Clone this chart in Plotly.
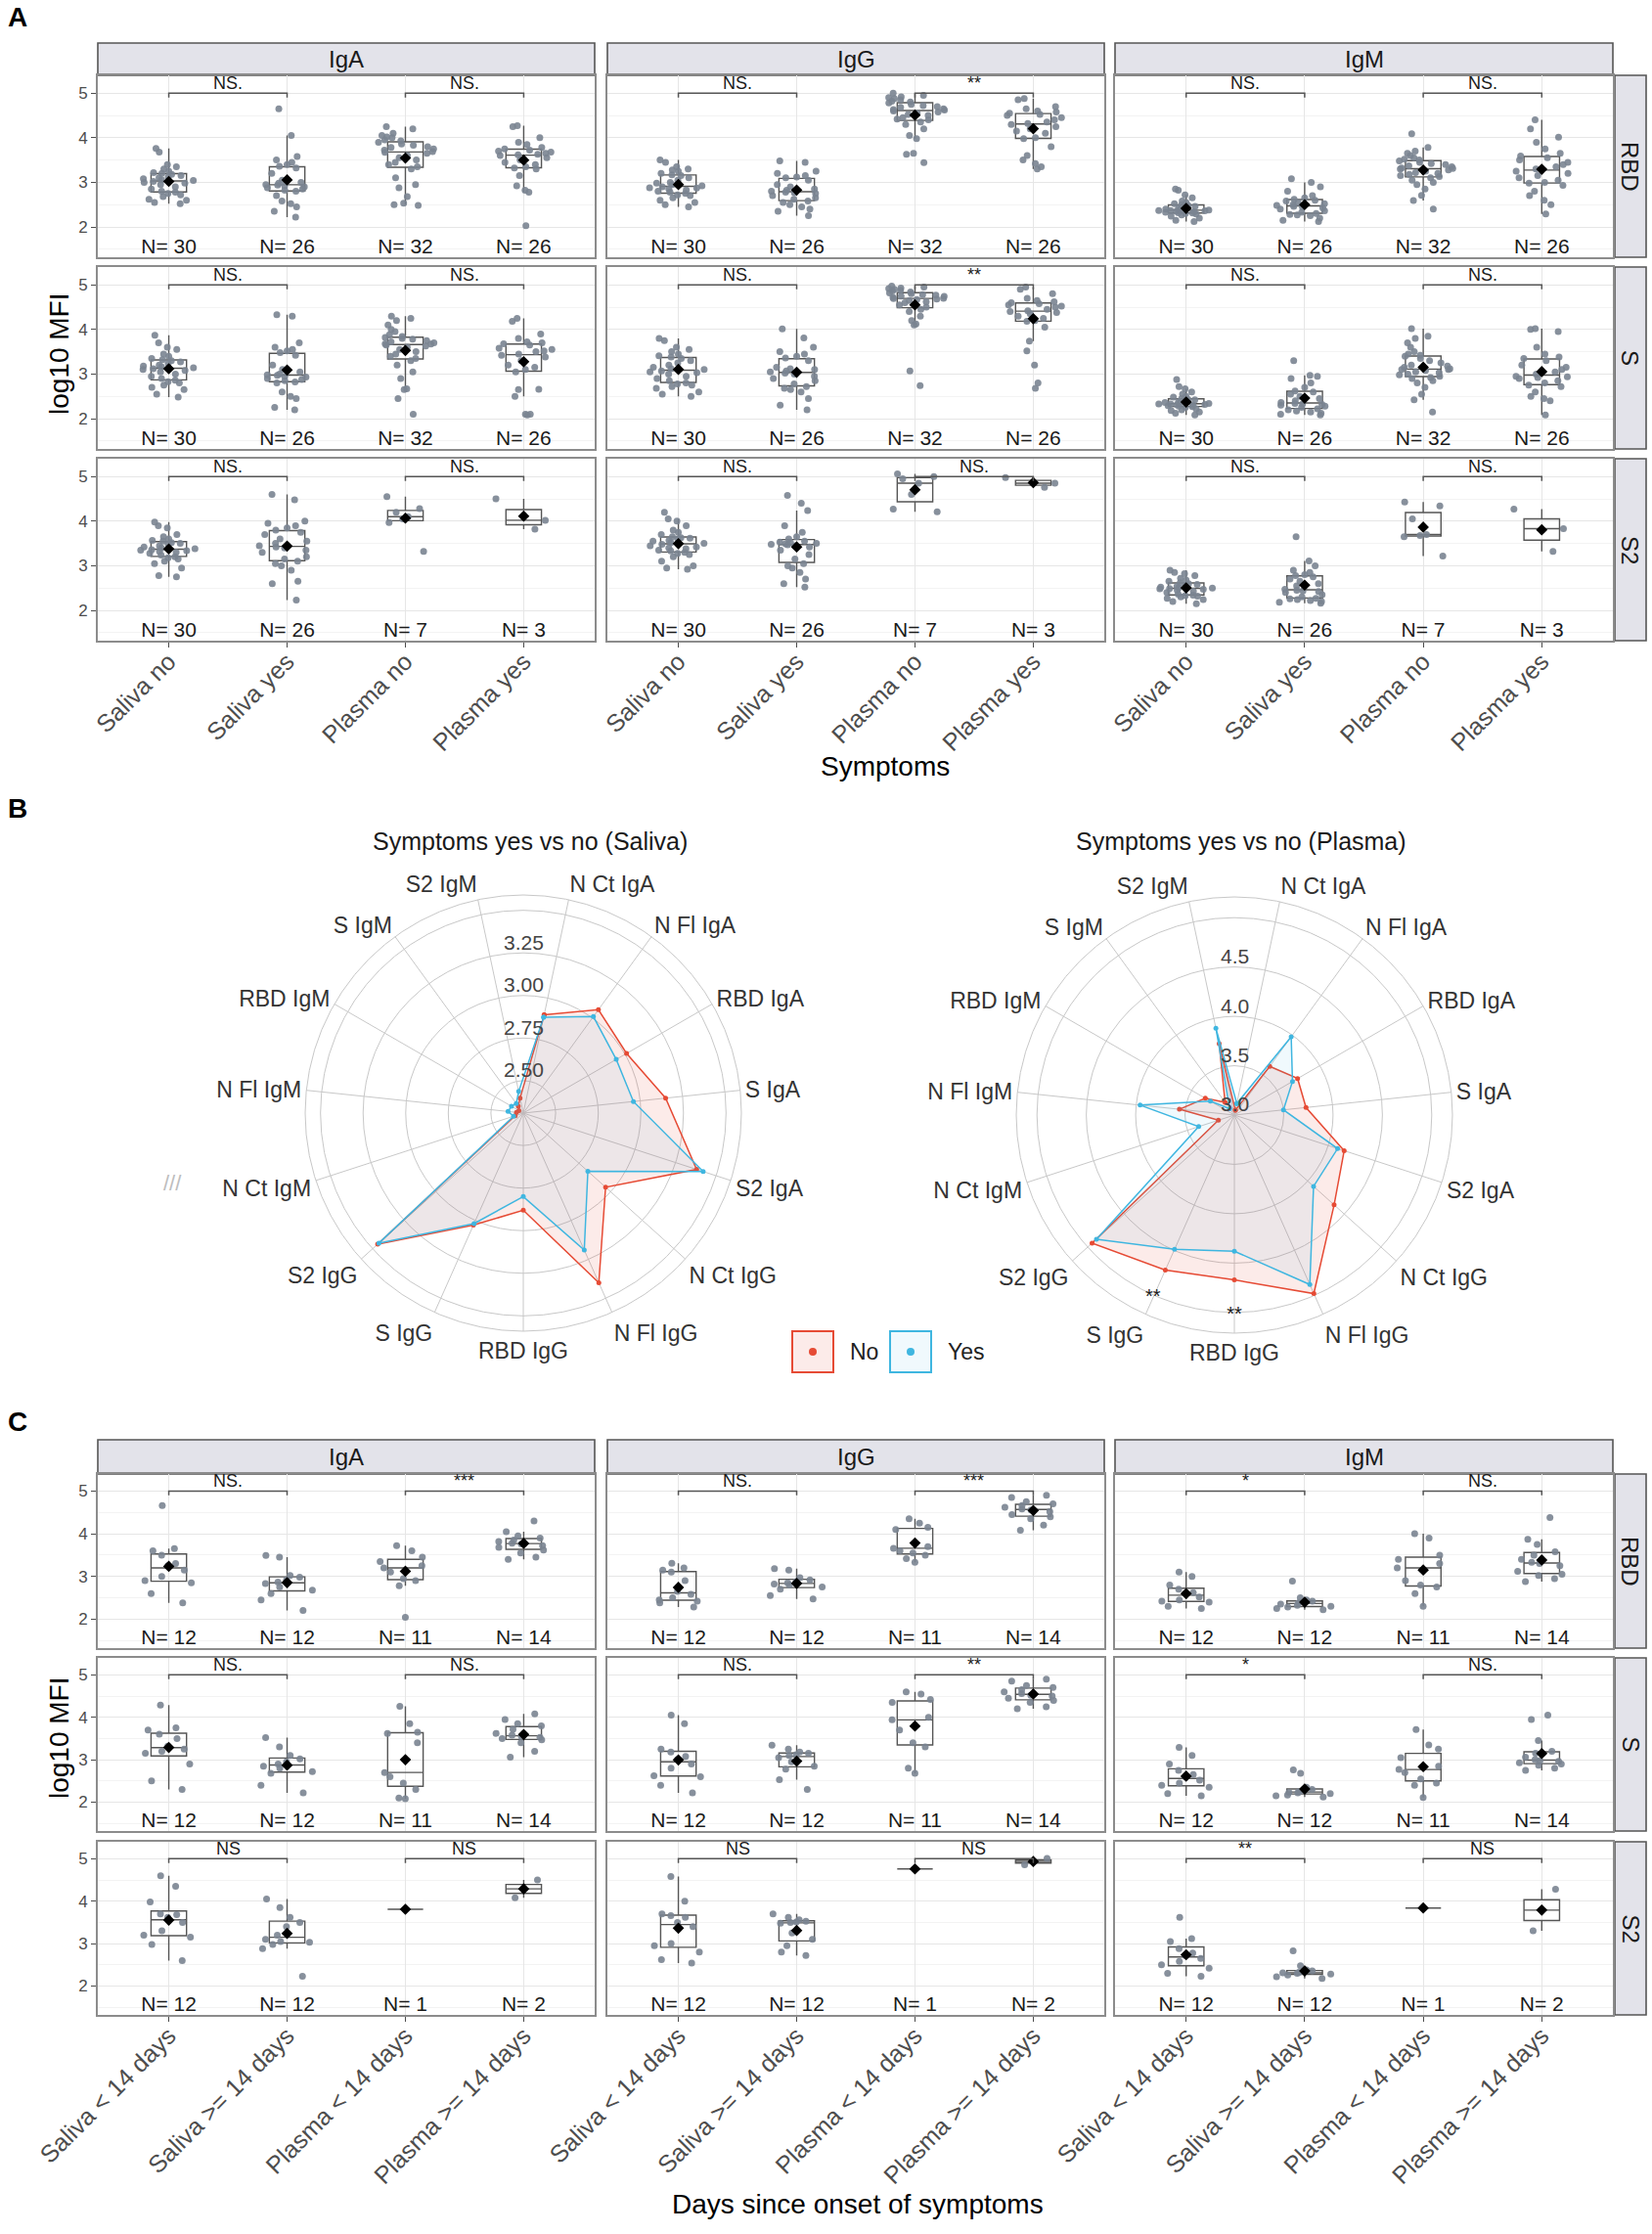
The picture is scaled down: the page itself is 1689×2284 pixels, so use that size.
import numpy as np
import plotly.graph_objects as go

# =========================================================================
# Data
# =========================================================================
ISOTYPES = ["IgA", "IgG", "IgM"]
ANTIGENS = ["RBD", "S", "S2"]
SYMPTOM_GROUPS = ["Saliva no", "Saliva yes", "Plasma no", "Plasma yes"]
ONSET_GROUPS = ["Saliva < 14 days", "Saliva >= 14 days", "Plasma < 14 days", "Plasma >= 14 days"]

# Panel A: log10 MFI by symptoms (saliva no, saliva yes, plasma no, plasma yes)
A_RBD_IGA = [
    [2.52, 2.55, 2.6, 2.62, 2.68, 2.72, 2.75, 2.78, 2.8, 2.85, 2.9, 2.95, 2.98, 3.0, 3.02, 3.04, 3.06, 3.08, 3.1, 3.12, 3.15, 3.18, 3.2, 3.22, 3.25, 3.3, 3.35, 3.4, 3.68, 3.76],
    [2.22, 2.35, 2.45, 2.52, 2.58, 2.7, 2.8, 2.82, 2.85, 2.88, 2.9, 2.92, 2.94, 2.95, 2.98, 3.0, 3.05, 3.2, 3.32, 3.36, 3.4, 3.45, 3.5, 3.58, 4.05, 4.65],
    [2.48, 2.5, 2.53, 2.68, 2.88, 2.95, 3.1, 3.3, 3.35, 3.4, 3.45, 3.5, 3.55, 3.6, 3.65, 3.67, 3.69, 3.72, 3.75, 3.78, 3.8, 3.83, 3.86, 3.9, 3.93, 3.95, 4.0, 4.02, 4.05, 4.1, 4.2, 4.25],
    [2.03, 2.78, 2.82, 2.92, 3.15, 3.3, 3.32, 3.35, 3.4, 3.45, 3.5, 3.55, 3.6, 3.62, 3.63, 3.65, 3.68, 3.7, 3.72, 3.75, 3.78, 3.85, 3.9, 4.0, 4.25, 4.27],
]
A_RBD_IGG = [
    [2.45, 2.5, 2.55, 2.6, 2.65, 2.7, 2.72, 2.75, 2.78, 2.8, 2.83, 2.85, 2.87, 2.88, 2.9, 2.92, 2.95, 2.98, 3.0, 3.05, 3.1, 3.15, 3.17, 3.2, 3.25, 3.28, 3.3, 3.35, 3.45, 3.5],
    [2.25, 2.35, 2.4, 2.45, 2.5, 2.55, 2.58, 2.62, 2.65, 2.7, 2.75, 2.77, 2.78, 2.8, 2.82, 2.85, 2.9, 2.95, 3.05, 3.1, 3.12, 3.15, 3.2, 3.25, 3.45, 3.48],
    [3.44, 3.63, 3.65, 3.98, 4.05, 4.2, 4.3, 4.35, 4.4, 4.42, 4.45, 4.5, 4.52, 4.55, 4.58, 4.6, 4.62, 4.63, 4.65, 4.68, 4.7, 4.72, 4.75, 4.78, 4.8, 4.82, 4.85, 4.88, 4.9, 4.92, 4.95, 5.0],
    [3.3, 3.35, 3.42, 3.5, 3.6, 3.8, 3.98, 4.0, 4.1, 4.15, 4.2, 4.25, 4.3, 4.32, 4.35, 4.4, 4.45, 4.5, 4.52, 4.55, 4.58, 4.6, 4.65, 4.7, 4.85, 4.88],
]
A_RBD_IGM = [
    [2.12, 2.15, 2.2, 2.24, 2.27, 2.29, 2.3, 2.31, 2.32, 2.33, 2.34, 2.35, 2.36, 2.37, 2.37, 2.38, 2.39, 2.4, 2.42, 2.44, 2.46, 2.48, 2.5, 2.52, 2.55, 2.58, 2.65, 2.72, 2.82, 2.85],
    [2.12, 2.15, 2.2, 2.25, 2.27, 2.28, 2.3, 2.33, 2.36, 2.4, 2.43, 2.45, 2.46, 2.48, 2.5, 2.52, 2.55, 2.58, 2.6, 2.62, 2.65, 2.7, 2.8, 2.9, 3.0, 3.08],
    [2.4, 2.59, 2.71, 2.85, 2.95, 3.0, 3.05, 3.1, 3.13, 3.15, 3.18, 3.2, 3.22, 3.25, 3.28, 3.3, 3.31, 3.32, 3.35, 3.37, 3.4, 3.42, 3.45, 3.48, 3.5, 3.52, 3.55, 3.6, 3.65, 3.7, 3.78, 4.09],
    [2.29, 2.5, 2.6, 2.7, 2.8, 2.93, 2.98, 3.0, 3.05, 3.1, 3.15, 3.2, 3.25, 3.3, 3.35, 3.4, 3.45, 3.5, 3.55, 3.59, 3.65, 3.75, 3.9, 4.01, 4.2, 4.4],
]
A_S_IGA = [
    [2.48, 2.55, 2.65, 2.7, 2.75, 2.8, 2.83, 2.86, 2.9, 2.95, 3.0, 3.05, 3.08, 3.1, 3.12, 3.14, 3.16, 3.18, 3.2, 3.24, 3.27, 3.3, 3.32, 3.35, 3.4, 3.45, 3.55, 3.6, 3.7, 3.87],
    [2.2, 2.25, 2.45, 2.5, 2.6, 2.8, 2.82, 2.85, 2.88, 2.9, 2.93, 2.95, 2.97, 2.98, 3.0, 3.05, 3.1, 3.2, 3.42, 3.48, 3.52, 3.55, 3.6, 3.7, 4.3, 4.33],
    [2.1, 2.45, 2.65, 2.67, 2.9, 3.05, 3.2, 3.3, 3.35, 3.4, 3.45, 3.5, 3.55, 3.6, 3.63, 3.65, 3.67, 3.68, 3.7, 3.72, 3.75, 3.78, 3.8, 3.82, 3.84, 3.88, 3.95, 4.0, 4.1, 4.2, 4.25, 4.3],
    [2.08, 2.1, 2.1, 2.5, 2.65, 2.66, 3.05, 3.1, 3.15, 3.2, 3.3, 3.38, 3.42, 3.45, 3.5, 3.52, 3.55, 3.58, 3.65, 3.68, 3.7, 3.72, 3.8, 3.9, 4.18, 4.25],
]
A_S_IGG = [
    [2.5, 2.55, 2.6, 2.68, 2.72, 2.75, 2.78, 2.8, 2.85, 2.9, 2.95, 3.0, 3.03, 3.05, 3.07, 3.1, 3.12, 3.15, 3.2, 3.25, 3.3, 3.35, 3.38, 3.41, 3.45, 3.5, 3.55, 3.6, 3.75, 3.8],
    [2.2, 2.3, 2.45, 2.6, 2.65, 2.68, 2.72, 2.78, 2.85, 2.9, 2.95, 3.0, 3.02, 3.05, 3.07, 3.1, 3.12, 3.15, 3.3, 3.36, 3.4, 3.45, 3.5, 3.6, 3.81, 4.01],
    [2.74, 3.07, 4.1, 4.12, 4.2, 4.3, 4.4, 4.45, 4.5, 4.55, 4.6, 4.62, 4.65, 4.67, 4.68, 4.69, 4.7, 4.72, 4.74, 4.75, 4.77, 4.78, 4.8, 4.82, 4.84, 4.86, 4.88, 4.9, 4.92, 4.93, 4.95, 4.97],
    [2.68, 2.8, 3.2, 3.52, 3.74, 4.05, 4.18, 4.2, 4.25, 4.3, 4.35, 4.38, 4.4, 4.42, 4.45, 4.5, 4.52, 4.55, 4.58, 4.6, 4.62, 4.65, 4.7, 4.8, 4.9, 4.95],
]
A_S_IGM = [
    [2.08, 2.12, 2.15, 2.18, 2.2, 2.22, 2.25, 2.27, 2.28, 2.29, 2.3, 2.31, 2.32, 2.33, 2.33, 2.34, 2.35, 2.36, 2.38, 2.4, 2.42, 2.43, 2.45, 2.48, 2.5, 2.55, 2.6, 2.67, 2.72, 2.88],
    [2.08, 2.1, 2.12, 2.15, 2.17, 2.2, 2.22, 2.25, 2.28, 2.3, 2.32, 2.33, 2.34, 2.36, 2.4, 2.45, 2.5, 2.55, 2.6, 2.62, 2.7, 2.8, 2.9, 2.95, 2.97, 3.3],
    [2.15, 2.42, 2.55, 2.7, 2.8, 2.85, 2.9, 2.92, 2.95, 2.98, 3.0, 3.03, 3.05, 3.08, 3.1, 3.1, 3.12, 3.15, 3.18, 3.2, 3.25, 3.3, 3.35, 3.4, 3.42, 3.45, 3.5, 3.6, 3.7, 3.8, 3.85, 4.02],
    [2.08, 2.4, 2.45, 2.5, 2.6, 2.72, 2.75, 2.8, 2.85, 2.9, 2.92, 2.94, 2.95, 3.0, 3.05, 3.1, 3.15, 3.2, 3.3, 3.35, 3.38, 3.45, 3.6, 3.95, 4.0, 4.02],
]
A_S2_IGA = [
    [2.75, 2.78, 2.95, 3.05, 3.1, 3.15, 3.18, 3.2, 3.24, 3.28, 3.3, 3.32, 3.34, 3.35, 3.36, 3.38, 3.4, 3.42, 3.45, 3.48, 3.5, 3.52, 3.55, 3.57, 3.6, 3.65, 3.7, 3.85, 3.9, 3.98],
    [2.23, 2.6, 2.65, 2.9, 3.0, 3.05, 3.1, 3.15, 3.2, 3.3, 3.35, 3.4, 3.42, 3.45, 3.5, 3.55, 3.6, 3.7, 3.75, 3.8, 3.85, 3.9, 3.95, 4.0, 4.48, 4.6],
    [3.32, 3.97, 4.05, 4.1, 4.2, 4.28, 4.55],
    [3.82, 4.02, 4.5],
]
A_S2_IGG = [
    [2.92, 2.95, 3.0, 3.1, 3.2, 3.25, 3.28, 3.3, 3.33, 3.35, 3.38, 3.4, 3.42, 3.45, 3.48, 3.5, 3.52, 3.55, 3.57, 3.6, 3.62, 3.63, 3.65, 3.7, 3.75, 3.8, 3.9, 4.0, 4.05, 4.2],
    [2.52, 2.6, 2.7, 2.85, 2.95, 3.0, 3.05, 3.15, 3.25, 3.35, 3.42, 3.45, 3.47, 3.48, 3.49, 3.5, 3.52, 3.53, 3.55, 3.6, 3.65, 3.75, 3.9, 4.24, 4.4, 4.58],
    [4.21, 4.27, 4.6, 4.85, 4.95, 5.0, 5.06],
    [4.76, 4.85, 4.98],
]
A_S2_IGM = [
    [2.15, 2.2, 2.24, 2.27, 2.3, 2.32, 2.33, 2.34, 2.36, 2.4, 2.43, 2.45, 2.47, 2.48, 2.49, 2.5, 2.51, 2.52, 2.54, 2.56, 2.58, 2.6, 2.62, 2.65, 2.68, 2.72, 2.78, 2.82, 2.85, 2.9],
    [2.16, 2.18, 2.2, 2.22, 2.24, 2.26, 2.27, 2.3, 2.35, 2.4, 2.42, 2.44, 2.45, 2.47, 2.55, 2.6, 2.65, 2.7, 2.75, 2.78, 2.8, 2.85, 2.9, 3.0, 3.11, 3.65],
    [3.22, 3.65, 3.68, 3.7, 4.05, 4.34, 4.43],
    [3.32, 3.83, 4.27],
]

# Panel C: log10 MFI by days since onset of symptoms
C_RBD_IGA = [
    [2.38, 2.6, 2.85, 2.9, 3.0, 3.15, 3.25, 3.3, 3.5, 3.6, 3.65, 4.66],
    [2.2, 2.45, 2.6, 2.68, 2.75, 2.83, 2.87, 2.92, 2.98, 3.02, 3.45, 3.49],
    [2.04, 2.78, 2.9, 2.95, 3.1, 3.2, 3.25, 3.35, 3.45, 3.6, 3.72],
    [3.4, 3.45, 3.55, 3.62, 3.68, 3.72, 3.76, 3.78, 3.82, 3.85, 3.9, 3.95, 4.05, 4.3],
]
C_RBD_IGG = [
    [2.28, 2.38, 2.42, 2.45, 2.5, 2.58, 2.65, 2.9, 3.1, 3.15, 3.2, 3.31],
    [2.47, 2.55, 2.7, 2.75, 2.8, 2.82, 2.85, 2.88, 2.92, 2.97, 3.15, 3.18],
    [3.33, 3.42, 3.5, 3.55, 3.6, 3.66, 3.7, 4.1, 4.15, 4.25, 4.35],
    [4.08, 4.2, 4.35, 4.4, 4.45, 4.52, 4.56, 4.58, 4.62, 4.66, 4.7, 4.75, 4.85, 4.9],
]
C_RBD_IGM = [
    [2.25, 2.3, 2.4, 2.42, 2.45, 2.52, 2.6, 2.62, 2.7, 2.8, 3.0, 3.1],
    [2.22, 2.25, 2.28, 2.3, 2.32, 2.35, 2.38, 2.4, 2.42, 2.45, 2.5, 2.89],
    [2.3, 2.6, 2.75, 2.8, 2.9, 3.2, 3.3, 3.4, 3.5, 3.9, 4.0],
    [2.88, 2.95, 3.02, 3.05, 3.12, 3.25, 3.3, 3.33, 3.4, 3.5, 3.58, 3.75, 3.87, 4.38],
]
C_S_IGA = [
    [2.3, 2.5, 2.9, 3.15, 3.2, 3.25, 3.32, 3.5, 3.6, 3.7, 3.75, 4.29],
    [2.22, 2.4, 2.68, 2.72, 2.8, 2.85, 2.9, 2.95, 3.02, 3.1, 3.3, 3.52],
    [2.08, 2.1, 2.3, 2.45, 2.6, 2.7, 3.4, 3.62, 3.65, 3.85, 4.26],
    [3.06, 3.2, 3.4, 3.47, 3.5, 3.53, 3.55, 3.58, 3.62, 3.72, 3.8, 3.85, 3.95, 4.08],
]
C_S_IGG = [
    [2.22, 2.4, 2.6, 2.62, 2.8, 2.9, 3.0, 3.08, 3.18, 3.25, 3.85, 4.05],
    [2.3, 2.53, 2.78, 2.85, 2.95, 3.05, 3.1, 3.12, 3.15, 3.18, 3.25, 3.34],
    [2.68, 2.8, 3.3, 3.4, 3.7, 3.94, 4.0, 4.35, 4.42, 4.55, 4.6],
    [4.2, 4.25, 4.35, 4.4, 4.45, 4.5, 4.52, 4.56, 4.6, 4.65, 4.7, 4.75, 4.85, 4.9],
]
C_S_IGM = [
    [2.15, 2.2, 2.35, 2.4, 2.45, 2.52, 2.6, 2.65, 2.75, 2.9, 3.1, 3.29],
    [2.12, 2.15, 2.17, 2.2, 2.22, 2.23, 2.25, 2.27, 2.3, 2.35, 2.68, 2.76],
    [2.11, 2.4, 2.45, 2.55, 2.7, 2.77, 2.85, 3.05, 3.25, 3.35, 3.71],
    [2.75, 2.8, 2.87, 2.9, 2.93, 2.96, 2.98, 3.0, 3.06, 3.15, 3.2, 3.45, 3.95, 4.05],
]
C_S2_IGA = [
    [2.6, 2.98, 3.15, 3.2, 3.3, 3.5, 3.62, 3.68, 3.7, 3.98, 4.35, 4.6],
    [2.23, 2.88, 2.98, 3.03, 3.05, 3.1, 3.2, 3.4, 3.5, 3.62, 3.85, 4.05],
    [3.81],
    [4.08, 4.5],
]
C_S2_IGG = [
    [2.54, 2.62, 2.8, 2.95, 3.0, 3.4, 3.5, 3.62, 3.66, 3.7, 4.0, 4.58],
    [2.72, 2.8, 2.95, 3.1, 3.25, 3.48, 3.5, 3.51, 3.53, 3.56, 3.62, 3.7],
    [4.76],
    [4.86, 5.01],
]
C_S2_IGM = [
    [2.23, 2.3, 2.42, 2.5, 2.58, 2.65, 2.72, 2.78, 2.88, 3.05, 3.12, 3.62],
    [2.18, 2.22, 2.26, 2.28, 2.3, 2.31, 2.32, 2.34, 2.36, 2.38, 2.48, 2.83],
    [3.84],
    [3.3, 4.28],
]

# significance labels: (saliva pair, plasma pair) per facet
A_SIG = [
    [["NS.", "NS."], ["NS.", "**"], ["NS.", "NS."]],
    [["NS.", "NS."], ["NS.", "**"], ["NS.", "NS."]],
    [["NS.", "NS."], ["NS.", "NS."], ["NS.", "NS."]],
]
C_SIG = [
    [["NS.", "***"], ["NS.", "***"], ["*", "NS."]],
    [["NS.", "NS."], ["NS.", "**"], ["*", "NS."]],
    [["NS", "NS"], ["NS", "NS"], ["**", "NS"]],
]

# Panel B: radar of group medians
RADAR_AXES = ["N Ct IgA", "N Fl IgA", "RBD IgA", "S IgA", "S2 IgA",
              "N Ct IgG", "N Fl IgG", "RBD IgG", "S IgG", "S2 IgG",
              "N Ct IgM", "N Fl IgM", "RBD IgM", "S IgM", "S2 IgM"]
SALIVA_NO = [2.90, 3.06, 3.01, 3.15, 3.38, 2.96, 3.40, 2.88, 3.03, 3.46, 2.36, 2.35, 2.34, 2.36, 2.40]
SALIVA_YES = [2.885, 3.01, 2.94, 2.96, 3.42, 2.82, 3.19, 2.80, 3.02, 3.45, 2.37, 2.40, 2.39, 2.38, 2.44]
PLASMA_NO = [3.05, 3.61, 3.74, 3.73, 4.17, 4.36, 4.98, 4.67, 4.72, 4.94, 3.17, 3.56, 3.34, 3.16, 3.74]
PLASMA_YES = [3.12, 3.98, 3.68, 3.50, 4.10, 4.08, 4.88, 4.38, 4.49, 4.88, 3.38, 3.96, 3.28, 3.08, 3.90]
PLASMA_SIG_AXES = ["S IgG", "RBD IgG"]
PLASMA_SIG_LABELS = ["**", "**"]
LEGEND_NAMES = ["No", "Yes"]

# =========================================================================
# Style / layout
# =========================================================================
W, H = 1689, 2284
FONT = "Liberation Sans, Arial, sans-serif"
RED, BLUE = "#E64B35", "#3FB6E0"
RED_FILL, BLUE_FILL = "rgba(230,75,53,0.11)", "rgba(63,182,224,0.08)"
POINT = "#7A8491"
BOX_LINE = "#555555"
FRAME = "#8C8C8C"
GRID, GRID_MINOR = "#E6E6E6", "#F3F3F3"
TICK = "#4D4D4D"
DARK = "#1A1A1A"
STRIP_FILL, STRIP_LINE = "#E3E3EA", "#555555"
RING = "#C8C8C8"

COLS = [(100, 608), (621, 1129), (1140, 1649)]
RSTRIP = (1651, 1683)
A_TOP, A_ROWS = (44, 77), [(77, 263), (273, 459), (469, 655)]
C_TOP, C_ROWS = (1472, 1507), [(1507, 1685), (1695, 1872), (1883, 2060)]
Y_RANGE = [1.32, 5.4]
N_LABEL_Y = 1.53


def dom_x(x0, x1):
    return [x0 / W, x1 / W]


def dom_y(y0, y1):
    return [1 - y1 / H, 1 - y0 / H]


def paper_text(text, x, y, size, color=DARK, angle=0, xanchor="center"):
    """Annotation placed in page pixels (top-left origin)."""
    return dict(x=x / W, y=1 - y / H, xref="paper", yref="paper", text=text,
                showarrow=False, textangle=angle, xanchor=xanchor, yanchor="middle",
                font=dict(size=size, color=color, family=FONT))


def axis_names(idx):
    s = "" if idx == 1 else str(idx)
    return "x" + s, "y" + s, "xaxis" + s, "yaxis" + s


def box_stats(vals):
    v = np.asarray(vals, dtype=float)
    q1, med, q3 = np.percentile(v, [25, 50, 75])
    iqr = q3 - q1
    lo = v[v >= q1 - 1.5 * iqr].min()
    hi = v[v <= q3 + 1.5 * iqr].max()
    return q1, med, q3, lo, hi


fig = go.Figure()
annotations = []
shapes = []
axes = {}


def add_facet(idx, groups, sig, cats, col, row, show_x, show_y):
    xr, yr, xkey, ykey = axis_names(idx)
    st = np.array([box_stats(g) for g in groups])
    common = dict(xaxis=xr, yaxis=yr, showlegend=False, hoverinfo="skip")

    fig.add_trace(go.Box(
        x=cats, q1=st[:, 0], median=st[:, 1], q3=st[:, 2],
        lowerfence=st[:, 3], upperfence=st[:, 4],
        width=0.3, whiskerwidth=0, boxpoints=False,
        fillcolor="rgba(255,255,255,0)", line=dict(color=BOX_LINE, width=1.4),
        **common))

    xs = [c for c, g in zip(cats, groups) for _ in g]
    ys = [v for g in groups for v in g]
    fig.add_trace(go.Box(
        x=xs, y=ys, width=0.5, whiskerwidth=0, boxpoints="all", jitter=1, pointpos=0,
        fillcolor="rgba(0,0,0,0)", line=dict(color="rgba(0,0,0,0)", width=0),
        marker=dict(color=POINT, size=7, opacity=0.9),
        **common))

    fig.add_trace(go.Scatter(
        x=cats, y=[float(np.mean(g)) for g in groups], mode="markers",
        marker=dict(symbol="diamond", color="black", size=9), **common))

    fig.add_trace(go.Scatter(
        x=cats, y=[N_LABEL_Y] * len(cats), mode="text",
        text=[f"N= {len(g)}" for g in groups],
        textfont=dict(size=21, color=DARK, family=FONT), **common))

    fig.add_trace(go.Scatter(
        x=[cats[0], cats[0], cats[1], cats[1], None, cats[2], cats[2], cats[3], cats[3]],
        y=[4.9, 5.0, 5.0, 4.9, None, 4.9, 5.0, 5.0, 4.9],
        mode="lines", line=dict(color=BOX_LINE, width=1.5), **common))
    for pos, label in zip([0.5, 2.5], sig):
        annotations.append(dict(
            x=pos, y=5.0, xref=xr, yref=yr, text=label, showarrow=False,
            xanchor="center", yanchor="bottom", yshift=-2,
            font=dict(size=18, color=DARK, family=FONT)))

    axes[xkey] = dict(
        domain=dom_x(*col), anchor=yr, type="category", automargin=False,
        categoryorder="array", categoryarray=cats, range=[-0.6, 3.6],
        showgrid=True, gridcolor=GRID, gridwidth=1, zeroline=False,
        showline=True, mirror=True, linecolor=FRAME, linewidth=1.6,
        ticks="outside" if show_x else "", ticklen=5, tickcolor=TICK,
        showticklabels=show_x, tickangle=-45, ticklabelstandoff=-10,
        tickfont=dict(size=25, color=TICK, family=FONT))
    axes[ykey] = dict(
        domain=dom_y(*row), anchor=xr, range=Y_RANGE, tickvals=[2, 3, 4, 5], automargin=False,
        showgrid=True, gridcolor=GRID, gridwidth=1, zeroline=False,
        minor=dict(tickvals=[1.5, 2.5, 3.5, 4.5], showgrid=True, gridcolor=GRID_MINOR),
        showline=True, mirror=True, linecolor=FRAME, linewidth=1.6,
        ticks="outside" if show_y else "", ticklen=5, tickcolor=TICK,
        showticklabels=show_y, tickfont=dict(size=17, color=TICK, family=FONT))


def add_strip(x0, x1, y0, y1, text, angle=0):
    shapes.append(dict(type="rect", xref="paper", yref="paper",
                       x0=x0 / W, x1=x1 / W, y0=1 - y1 / H, y1=1 - y0 / H,
                       fillcolor=STRIP_FILL, line=dict(color=STRIP_LINE, width=1.6), layer="below"))
    annotations.append(paper_text(text, (x0 + x1) / 2, (y0 + y1) / 2, 24, angle=angle))


def add_grid(data, sig, cats, first_idx, top, rows):
    for r, (row_data, row_sig) in enumerate(zip(data, sig)):
        for c, (groups, s) in enumerate(zip(row_data, row_sig)):
            add_facet(first_idx + r * 3 + c, groups, s, cats, COLS[c], rows[r],
                      show_x=(r == len(rows) - 1), show_y=(c == 0))
    for c, iso in enumerate(ISOTYPES):
        add_strip(COLS[c][0], COLS[c][1], top[0], top[1], iso)
    for r, ag in enumerate(ANTIGENS):
        add_strip(RSTRIP[0], RSTRIP[1], rows[r][0], rows[r][1], ag, angle=90)


A_DATA = [[A_RBD_IGA, A_RBD_IGG, A_RBD_IGM], [A_S_IGA, A_S_IGG, A_S_IGM], [A_S2_IGA, A_S2_IGG, A_S2_IGM]]
C_DATA = [[C_RBD_IGA, C_RBD_IGG, C_RBD_IGM], [C_S_IGA, C_S_IGG, C_S_IGM], [C_S2_IGA, C_S2_IGG, C_S2_IGM]]
add_grid(A_DATA, A_SIG, SYMPTOM_GROUPS, 1, A_TOP, A_ROWS)
add_grid(C_DATA, C_SIG, ONSET_GROUPS, 10, C_TOP, C_ROWS)

# =========================================================================
# Radar charts (panel B)
# =========================================================================
RADARS = [
    dict(key="polar", center=(535, 1138), radius=223, rng=[2.31, 3.59],
         ticks=[2.5, 2.75, 3.0, 3.25, 3.5], fmt="{:.2f}",
         title="Symptoms yes vs no (Saliva)", no=SALIVA_NO, yes=SALIVA_YES),
    dict(key="polar2", center=(1262, 1140), radius=223, rng=[3.0, 5.21],
         ticks=[3.0, 3.5, 4.0, 4.5, 5.0], fmt="{:.1f}",
         title="Symptoms yes vs no (Plasma)", no=PLASMA_NO, yes=PLASMA_YES),
]
polars = {}
for rd in RADARS:
    cx, cy = rd["center"]
    R = rd["radius"]
    theta = RADAR_AXES + RADAR_AXES[:1]
    for name, vals, color, fill in [(LEGEND_NAMES[0], rd["no"], RED, RED_FILL),
                                    (LEGEND_NAMES[1], rd["yes"], BLUE, BLUE_FILL)]:
        fig.add_trace(go.Scatterpolar(
            r=vals + vals[:1], theta=theta, subplot=rd["key"], name=name,
            mode="lines+markers", fill="toself", fillcolor=fill,
            line=dict(color=color, width=1.5), marker=dict(color=color, size=5),
            showlegend=False, hoverinfo="skip"))
    polars[rd["key"]] = dict(
        domain=dict(x=dom_x(cx - R, cx + R), y=dom_y(cy - R, cy + R)),
        bgcolor="white",
        angularaxis=dict(rotation=78, direction="clockwise", categoryorder="array",
                         categoryarray=RADAR_AXES, showline=True, linecolor=RING, linewidth=1,
                         gridcolor=RING, gridwidth=1, ticks="",
                         tickfont=dict(size=23, color="#333333", family=FONT)),
        radialaxis=dict(range=rd["rng"], tickvals=rd["ticks"], showticklabels=False,
                        showline=False, ticks="", gridcolor=RING, gridwidth=1))
    # radial tick labels, stacked straight up from the centre
    r0, r1 = rd["rng"]
    for v in rd["ticks"][:-1]:
        rpx = (v - r0) / (r1 - r0) * R
        annotations.append(paper_text(rd["fmt"].format(v), cx, cy - rpx - 11, 21, color="#444444"))
    annotations.append(paper_text(rd["title"], cx + 7, 860, 25))

fig.add_trace(go.Scatterpolar(
    r=[5.03] * len(PLASMA_SIG_AXES), theta=PLASMA_SIG_AXES, subplot="polar2",
    mode="text", text=PLASMA_SIG_LABELS, textfont=dict(size=20, color=DARK, family=FONT),
    showlegend=False, hoverinfo="skip"))

# legend keys for the radar (boxed swatch with a dot, as in the original)
for name, x0, color, fill in [(LEGEND_NAMES[0], 810, RED, RED_FILL), (LEGEND_NAMES[1], 910, BLUE, BLUE_FILL)]:
    shapes.append(dict(type="rect", xref="paper", yref="paper",
                       x0=x0 / W, x1=(x0 + 42) / W, y0=1 - 1403 / H, y1=1 - 1361 / H,
                       fillcolor=fill, line=dict(color=color, width=2)))
    shapes.append(dict(type="circle", xref="paper", yref="paper",
                       x0=(x0 + 17) / W, x1=(x0 + 25) / W, y0=1 - 1386 / H, y1=1 - 1378 / H,
                       fillcolor=color, line=dict(color=color, width=0)))
    annotations.append(paper_text(name, x0 + 57, 1382, 23, color="#222222", xanchor="left"))

# =========================================================================
# Titles, panel letters
# =========================================================================
annotations += [
    paper_text("log10 MFI", 60, 361, 28, color="black", angle=-90),
    paper_text("log10 MFI", 60, 1776, 28, color="black", angle=-90),
    paper_text("Symptoms", 905, 783, 28, color="black"),
    paper_text("Days since onset of symptoms", 877, 2253, 28, color="black"),
    paper_text("<b>A</b>", 18, 17, 28, color="black"),
    paper_text("<b>B</b>", 18, 826, 28, color="black"),
    paper_text("<b>C</b>", 18, 1453, 28, color="black"),
    paper_text("///", 176, 1209, 22, color="#BDBDBD"),
]

fig.update_layout(
    template="none",
    width=W, height=H, margin=dict(l=0, r=0, t=0, b=0, autoexpand=False),
    paper_bgcolor="white", plot_bgcolor="white",
    font=dict(family=FONT, color=DARK),
    boxmode="overlay", showlegend=False,
    annotations=annotations, shapes=shapes,
    **axes, **polars,
)

# page body without the default 8px margin, so the figure sits flush in the window
fig.write_html("out.html", config={"displayModeBar": False},
               post_script="document.body.style.margin='0';document.body.style.overflow='hidden';")
